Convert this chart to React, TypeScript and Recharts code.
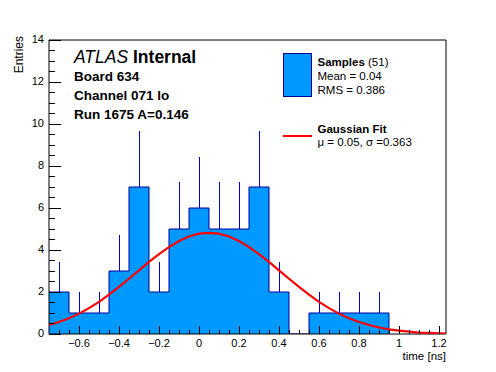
import {
  ComposedChart,
  Area,
  Line,
  XAxis,
  YAxis,
  ReferenceArea,
} from "recharts";

// histogram: bin low edges (width 0.1 ns) and counts
const binEdges = [
  -0.75, -0.65, -0.55, -0.45, -0.35, -0.25, -0.15, -0.05, 0.05, 0.15, 0.25,
  0.35, 0.45, 0.55, 0.65, 0.75, 0.85, 0.95,
];
const binCenters = [
  -0.7, -0.6, -0.5, -0.4, -0.3, -0.2, -0.1, 0, 0.1, 0.2, 0.3, 0.4, 0.5, 0.6,
  0.7, 0.8, 0.9,
];
const counts = [2, 1, 1, 3, 7, 2, 5, 6, 5, 5, 7, 2, 0, 1, 1, 1, 1];
// upper error (top of the vertical line minus the count)
const errUp = [
  1.41, 1, 1, 1.73, 2.65, 1.41, 2.24, 2.45, 2.24, 2.24, 2.65, 1.41, 0, 1, 1, 1,
  1,
];

// gaussian fit curve, read at 0.05 ns steps
const fitX = [
  -0.75, -0.7, -0.65, -0.6, -0.55, -0.5, -0.45, -0.4, -0.35, -0.3, -0.25, -0.2,
  -0.15, -0.1, -0.05, 0, 0.05, 0.1, 0.15, 0.2, 0.25, 0.3, 0.35, 0.4, 0.45, 0.5,
  0.55, 0.6, 0.65, 0.7, 0.75, 0.8, 0.85, 0.9, 0.95, 1.0, 1.05, 1.1, 1.15, 1.2,
  1.25,
];
const fitY = [
  0.43, 0.57, 0.75, 0.97, 1.23, 1.53, 1.87, 2.24, 2.63, 3.03, 3.43, 3.8, 4.14,
  4.43, 4.64, 4.78, 4.82, 4.78, 4.64, 4.43, 4.14, 3.8, 3.43, 3.03, 2.63, 2.24,
  1.87, 1.53, 1.23, 0.97, 0.75, 0.57, 0.43, 0.31, 0.22, 0.16, 0.11, 0.07, 0.05,
  0.03, 0.02,
];

const X_MIN = -0.75;
const X_MAX = 1.235;
const Y_MAX = 14;

const FILL = "#0099ff";
const EDGE = "#000099";
const ERR = "#0000cc";
const FONT = "'Liberation Sans', Arial, Helvetica, sans-serif";

const histRows = binEdges.map((e, i) => ({ x: e, n: counts[i] ?? 0 }));
// each error bar is a two-point vertical segment from the count upwards
const errSegs = binCenters
  .map((c, i) => [
    { x: c, y: counts[i] },
    { x: c, y: counts[i] + errUp[i] },
  ])
  .filter((s) => s[0].y > 0);
const fitRows = fitX.map((x, i) => ({ x, y: fitY[i] }));

// ROOT-like ticks: majors every 0.2 (x) / 2 (y), minors between
const xTicks: number[] = [];
for (let k = -70; k <= 120; k += 5) xTicks.push(k / 100);
const yTicks: number[] = [];
for (let k = 0; k <= 28; k++) yTicks.push(k / 2);

function fmtX(v: number) {
  const s = String(Number(v.toFixed(1)));
  return s.replace("-", "\u2212");
}

function XTick(props: any) {
  const { x, y, payload } = props;
  const v = payload.value as number;
  const major = Math.round(v * 100) % 20 === 0;
  return (
    <g>
      <line
        x1={x}
        y1={y}
        x2={x}
        y2={y - (major ? 8 : 4)}
        stroke="#000"
        shapeRendering="crispEdges"
      />
      {major && (
        <text
          x={x}
          y={y + 13}
          textAnchor="middle"
          fontSize={11}
          fontFamily={FONT}
          fill="#000"
        >
          {fmtX(v)}
        </text>
      )}
    </g>
  );
}

function YTick(props: any) {
  const { x, y, payload } = props;
  const v = payload.value as number;
  const major = Math.round(v * 2) % 4 === 0;
  return (
    <g>
      <line
        x1={x}
        y1={y}
        x2={x + (major ? 12 : 6)}
        y2={y}
        stroke="#000"
        shapeRendering="crispEdges"
      />
      {major && (
        <text
          x={x - 5}
          y={y + 2.5}
          textAnchor="end"
          fontSize={11}
          fontFamily={FONT}
          fill="#000"
        >
          {v}
        </text>
      )}
    </g>
  );
}

export default function App() {
  return (
    <div style={{ position: "relative", width: 496, height: 372, background: "#fff" }}>
      <style>{"body{margin:0} .err-seg path{shape-rendering:crispEdges}"}</style>
      <ComposedChart
        width={496}
        height={372}
        margin={{ top: 40, right: 50, bottom: 0, left: 0 }}
      >
        <Area
          data={histRows}
          dataKey="n"
          type="stepAfter"
          fill={FILL}
          fillOpacity={1}
          stroke={EDGE}
          strokeWidth={1}
          isAnimationActive={false}
        />
        {errSegs.map((seg, i) => (
          <Line
            key={"err" + i}
            className="err-seg"
            data={seg}
            dataKey="y"
            type="linear"
            stroke={ERR}
            strokeWidth={1}
            dot={false}
            activeDot={false}
            isAnimationActive={false}
          />
        ))}
        <Line
          data={fitRows}
          dataKey="y"
          type="linear"
          stroke="#ff0000"
          strokeWidth={2.2}
          dot={false}
          isAnimationActive={false}
        />
        <ReferenceArea
          x1={X_MIN}
          x2={X_MAX}
          y1={0}
          y2={Y_MAX}
          fill="none"
          stroke="#000"
          strokeWidth={1}
          fillOpacity={0}
        />
        <XAxis
          dataKey="x"
          type="number"
          domain={[X_MIN, X_MAX]}
          allowDataOverflow
          ticks={xTicks}
          interval={0}
          tick={<XTick />}
          tickLine={false}
          tickSize={0}
          tickMargin={0}
          axisLine={false}
          height={38}
        />
        <YAxis
          type="number"
          domain={[0, Y_MAX]}
          allowDataOverflow
          ticks={yTicks}
          interval={0}
          tick={<YTick />}
          tickLine={false}
          tickSize={0}
          tickMargin={0}
          axisLine={false}
          width={49}
        />
      </ComposedChart>

      {/* annotations, legend and axis titles */}
      <svg
        width={496}
        height={372}
        style={{ position: "absolute", left: 0, top: 0, pointerEvents: "none" }}
        fontFamily={FONT}
      >
        <text x={446} y={360} textAnchor="end" fontSize={11.5}>
          time [ns]
        </text>
        <text
          transform="translate(23,36) rotate(-90)"
          textAnchor="end"
          fontSize={12}
        >
          Entries
        </text>

        <text x={74} y={63} fontSize={17.5}>
          <tspan fontStyle="italic">ATLAS</tspan>
          <tspan fontWeight="bold"> Internal</tspan>
        </text>
        <text x={74} y={81} fontSize={13.5} fontWeight="bold">
          Board 634
        </text>
        <text x={74} y={100} fontSize={13.5} fontWeight="bold">
          Channel 071 lo
        </text>
        <text x={74} y={119} fontSize={13.5} fontWeight="bold">
          Run 1675 A=0.146
        </text>

        <rect x={283.5} y={53.5} width={28} height={43} fill={FILL} stroke={EDGE} />
        <text x={317.5} y={66} fontSize={11.5}>
          <tspan fontWeight="bold">Samples</tspan>
          <tspan> (51)</tspan>
        </text>
        <text x={317.5} y={80} fontSize={11.5}>
          Mean = 0.04
        </text>
        <text x={317.5} y={94} fontSize={11.5}>
          RMS = 0.386
        </text>

        <line x1={283} y1={136} x2={312} y2={136} stroke="#ff0000" strokeWidth={2} />
        <text x={317.5} y={132.5} fontSize={11.5} fontWeight="bold">
          Gaussian Fit
        </text>
        <text x={317.5} y={146} fontSize={11.5}>
          {"\u03bc = 0.05, \u03c3 =0.363"}
        </text>
      </svg>
    </div>
  );
}
